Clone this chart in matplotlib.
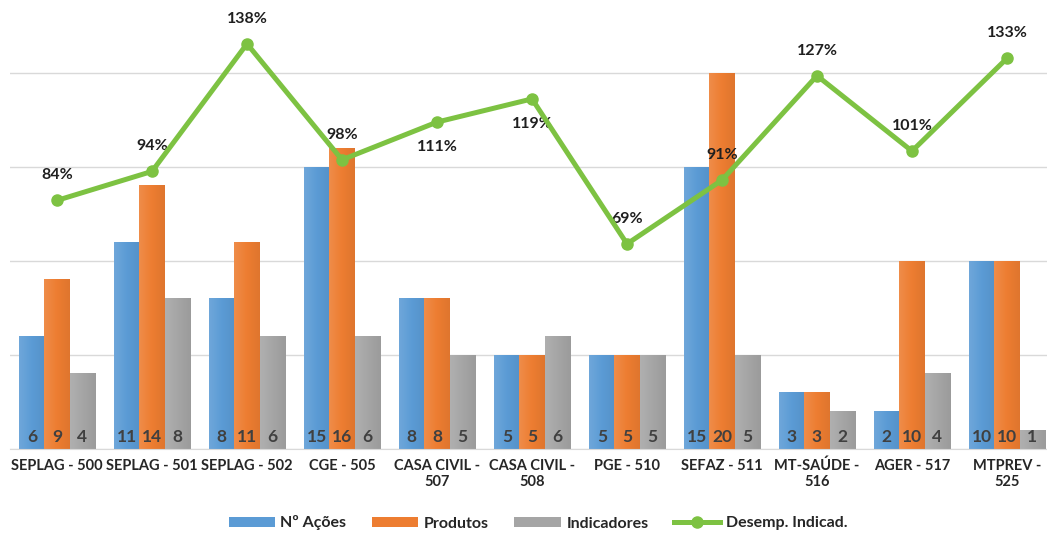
import numpy as np
import matplotlib.pyplot as plt
from matplotlib.colors import LinearSegmentedColormap, to_rgb

plt.rcParams['font.family'] = ['Lato', 'DejaVu Sans']

categories = ['SEPLAG - 500', 'SEPLAG - 501', 'SEPLAG - 502', 'CGE - 505',
              'CASA CIVIL -\n507', 'CASA CIVIL -\n508', 'PGE - 510', 'SEFAZ - 511',
              'MT-SAÚDE -\n516', 'AGER - 517', 'MTPREV -\n525']
acoes = [6, 11, 8, 15, 8, 5, 5, 15, 3, 2, 10]
produtos = [9, 14, 11, 16, 8, 5, 5, 20, 3, 10, 10]
indicadores = [4, 8, 6, 6, 5, 6, 5, 5, 2, 4, 1]
desemp = [84, 94, 138, 98, 111, 119, 69, 91, 127, 101, 133]
# label above (1) or below (-1) the point
label_side = [1, 1, 1, 1, -1, -1, 1, 1, 1, 1, 1]

blue = '#5B9BD5'
orange = '#ED7D31'
gray = '#A5A5A5'
green = '#7DC242'


def shade(c, f):
    r = np.array(to_rgb(c))
    if f > 0:
        return tuple(r + (1 - r) * f)
    return tuple(r * (1 + f))


def gradient_bars(ax, bars, color):
    cmap = LinearSegmentedColormap.from_list('g', [shade(color, 0.12), color, shade(color, -0.06)])
    grad = np.linspace(0, 1, 64).reshape(1, -1)
    for b in bars:
        x0, y0 = b.get_x(), b.get_y()
        w, h = b.get_width(), b.get_height()
        ax.imshow(grad, extent=[x0, x0 + w, y0, y0 + h], aspect='auto', cmap=cmap,
                  zorder=2, interpolation='bicubic')
        b.set_facecolor('none')


fig = plt.figure(figsize=(10.47, 5.35), dpi=100)
ax = fig.add_axes([9.5 / 1047, 86 / 535, 1045 / 1047, 439 / 535])

x = np.arange(len(categories))
w = 0.265
b1 = ax.bar(x - w, acoes, w, color=blue, label='Nº Ações', zorder=2)
b2 = ax.bar(x, produtos, w, color=orange, label='Produtos', zorder=2)
b3 = ax.bar(x + w, indicadores, w, color=gray, label='Indicadores', zorder=2)
for bars, col in [(b1, blue), (b2, orange), (b3, gray)]:
    gradient_bars(ax, bars, col)

for bars, vals in [(b1, acoes), (b2, produtos), (b3, indicadores)]:
    for b, v in zip(bars, vals):
        ax.annotate(str(v), (b.get_x() + b.get_width() / 2, 0), xytext=(0, 9),
                    textcoords='offset points', ha='center', va='center',
                    fontsize=12.5, fontweight='bold', color='#404040', zorder=3)

ax2 = ax.twinx()
ax2.plot(x, desemp, color=green, linewidth=3.6, marker='o', markersize=8,
         label='Desemp. Indicad.', zorder=4)
ax2.set_ylim(-5 / 2.9, 434 / 2.9)
ax2.axis('off')
for xi, v, s in zip(x, desemp, label_side):
    ax2.annotate(f'{v}%', (xi, v), xytext=(0, 18 * s), textcoords='offset points',
                 ha='center', va='center', fontsize=11.5, fontweight='bold', color='#1F1F1F')

ax.set_xlim(-0.5, len(categories) - 0.5)
ax.set_ylim(0, 439 / 18.8)
ax.set_yticks([0, 5, 10, 15, 20])
ax.yaxis.grid(True, color='#D9D9D9', linewidth=1)
ax.set_axisbelow(True)
ax.tick_params(axis='y', left=False, right=False, labelleft=False, labelright=False)
ax.set_xticks(x)
ax.set_xticklabels(categories, fontsize=10.5, fontweight='bold', color='#262626')
ax.tick_params(axis='x', length=0, pad=7)
for s in ['top', 'right', 'left']:
    ax.spines[s].set_visible(False)
ax.spines['bottom'].set_color('#D9D9D9')

h1, l1 = ax.get_legend_handles_labels()
h2, l2 = ax2.get_legend_handles_labels()
leg = fig.legend(h1 + h2, l1 + l2, loc='center', bbox_to_anchor=(538 / 1047, 12 / 535),
                 ncol=4, frameon=False, fontsize=11.5, handlelength=2.9, handleheight=0.6,
                 handletextpad=0.35, columnspacing=1.6)
for t in leg.get_texts():
    t.set_fontweight('bold')
    t.set_color('#262626')
for hnd, col in zip(leg.legend_handles[:3], [blue, orange, gray]):
    hnd.set_facecolor(col)

fig.savefig('out.png', dpi=100)
